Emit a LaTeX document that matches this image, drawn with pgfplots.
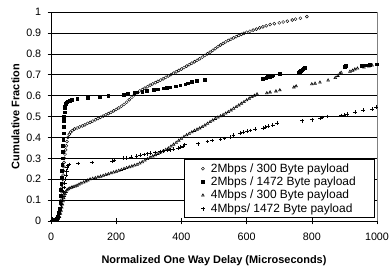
\documentclass[border=0pt]{standalone}
\usepackage{fontspec}
\setmainfont{Liberation Sans}
\usepackage{pgfplots}
\pgfplotsset{compat=1.18}
\newcommand\lf{\fontsize{12}{14}\selectfont}
\pgfplotsset{myleg/.style={legend image code/.code={\path (-0.55cm,0cm) (0.2cm,0cm); \draw[##1] plot coordinates {(0cm,0cm)};}}}
\begin{document}
\begin{tikzpicture}
\begin{axis}[
 scale only axis, width=326bp, height=209bp,
 xmin=0, xmax=1000, ymin=0, ymax=1,
 xtick={0,200,400,600,800,1000},
 ytick={0,0.1,0.2,0.3,0.4,0.5,0.6,0.7,0.8,0.9,1},
 ymajorgrids, major grid style={black, line width=0.5bp},
 axis x line*=bottom, axis y line*=left,
 axis line style={black, line width=0.6bp},
 tick align=center, major tick length=6.5bp,
 tick style={black, line width=0.5bp},
 ticklabel style={font=\fontsize{10.8}{13}\selectfont},
 xticklabel style={yshift=-5bp},
 yticklabel style={xshift=-3bp},
 /pgf/number format/assume math mode=true,
 /pgf/number format/1000 sep={},
 xlabel={Normalized One Way Delay (Microseconds)},
 ylabel={Cumulative Fraction},
 label style={font=\fontsize{11}{13}\selectfont\bfseries},
 xlabel style={yshift=-8bp},
 ylabel style={yshift=0bp},
 legend style={at={(0.994,0.014)}, anchor=south east, draw=black, fill=white,
   font=\lf, row sep=-0.8bp, line width=0.6bp},
 legend cell align=left,
 clip=false,
]
\draw[gray, line width=0.6bp] (rel axis cs:1,0) -- (rel axis cs:1,1);
\addplot[only marks, mark=o, mark size=1.5bp, mark options={line width=0.45bp, fill=white}, myleg] coordinates {
(16,0.004)(20,0.01)(23,0.02)(26,0.04)(28,0.06)(30,0.08)(31,0.10)(32,0.12)(33,0.14)(34,0.16)(35,0.18)(36,0.20)(37,0.22)(38,0.24)(39,0.26)(40,0.28)(41,0.30)(43,0.32)(45,0.34)(47,0.36)(49,0.38)(52,0.40)(56,0.415)(60,0.425)(65,0.432)(72,0.44)(80,0.445)(88,0.45)(96,0.455)(104,0.46)(112,0.467)(120,0.472)(128,0.478)(136,0.484)(144,0.49)(152,0.496)(160,0.502)(168,0.508)(176,0.514)(184,0.52)(192,0.527)(200,0.534)(208,0.541)(216,0.549)(224,0.558)(232,0.568)(240,0.58)(248,0.592)(256,0.604)(264,0.614)(272,0.622)(280,0.629)(288,0.636)(296,0.643)(304,0.65)(312,0.656)(320,0.662)(328,0.668)(336,0.674)(344,0.68)(352,0.687)(360,0.694)(368,0.70)(376,0.707)(384,0.714)(392,0.72)(400,0.727)(408,0.734)(416,0.741)(424,0.748)(432,0.755)(440,0.762)(448,0.769)(456,0.776)(464,0.784)(472,0.792)(480,0.80)(488,0.808)(496,0.816)(504,0.825)(512,0.834)(520,0.842)(528,0.85)(536,0.857)(544,0.864)(552,0.87)(560,0.876)(568,0.882)(576,0.888)(584,0.893)(592,0.898)(600,0.903)(610,0.908)(620,0.913)(630,0.918)(640,0.924)(650,0.929)(660,0.934)(672,0.94)(685,0.944)(700,0.948)(712,0.952)(725,0.956)(740,0.962)(750,0.966)(765,0.97)(785,0.978)
};
\addlegendentry{\lf 2Mbps / 300 Byte payload\hspace*{14bp}}
\addplot[only marks, mark=square*, mark size=1.35bp, mark options={black}, myleg] coordinates {
(14,0.004)(18,0.01)(21,0.02)(24,0.04)(26,0.06)(28,0.09)(29,0.12)(30,0.15)(31,0.18)(32,0.21)(33,0.24)(34,0.27)(35,0.30)(36,0.33)(36.5,0.36)(37,0.39)(38,0.42)(38.5,0.45)(39,0.48)(40,0.50)(41,0.52)(42,0.54)(43,0.55)(45,0.56)(47,0.565)(50,0.57)(54,0.573)(58,0.576)(63,0.58)(80,0.585)(112,0.59)(150,0.595)(175,0.60)(222,0.603)(230,0.607)(236,0.61)(255,0.613)(263,0.616)(280,0.62)(294,0.623)(315,0.627)(328,0.63)(345,0.635)(355,0.637)(365,0.64)(382,0.645)(396,0.65)(412,0.655)(420,0.66)(432,0.665)(447,0.67)(472,0.675)(650,0.68)(655,0.683)(660,0.686)(665,0.689)(670,0.692)(676,0.695)(681,0.698)(702,0.705)(758,0.71)(762,0.714)(765,0.718)(768,0.722)(771,0.726)(774,0.73)(778,0.735)(900,0.737)(905,0.742)(954,0.744)(966,0.746)(978,0.748)(998,0.75)
};
\addlegendentry{\lf 2Mbps / 1472 Byte payload\hspace*{14bp}}
\addplot[only marks, mark=triangle, mark size=1.5bp, mark options={line width=0.6bp, fill=white}, myleg] coordinates {
(18,0.004)(22,0.01)(26,0.02)(29,0.035)(31,0.05)(33,0.065)(35,0.08)(37,0.095)(39,0.11)(41,0.12)(43,0.13)(46,0.14)(49,0.148)(53,0.153)(58,0.157)(63,0.16)(68,0.163)(74,0.166)(80,0.17)(86,0.175)(92,0.18)(100,0.185)(107,0.19)(113,0.195)(120,0.2)(128,0.203)(136,0.206)(144,0.21)(152,0.213)(160,0.217)(168,0.221)(176,0.225)(184,0.229)(192,0.233)(200,0.237)(208,0.241)(216,0.245)(224,0.25)(232,0.254)(240,0.258)(248,0.262)(256,0.266)(264,0.27)(272,0.276)(280,0.282)(288,0.29)(296,0.297)(304,0.304)(312,0.31)(320,0.316)(328,0.322)(336,0.328)(344,0.334)(352,0.341)(360,0.348)(368,0.357)(376,0.366)(384,0.375)(392,0.385)(400,0.394)(408,0.403)(416,0.411)(424,0.418)(432,0.425)(440,0.432)(448,0.438)(456,0.444)(464,0.45)(472,0.458)(480,0.466)(488,0.474)(496,0.482)(504,0.489)(512,0.496)(520,0.502)(528,0.508)(536,0.515)(544,0.522)(552,0.53)(560,0.538)(568,0.546)(576,0.554)(584,0.562)(592,0.57)(600,0.578)(608,0.586)(616,0.594)(624,0.60)(632,0.607)(662,0.612)(672,0.616)(690,0.621)(702,0.626)(745,0.64)(752,0.645)(800,0.655)(810,0.658)(825,0.663)(850,0.673)(872,0.685)(880,0.695)(886,0.705)(890,0.71)(917,0.715)(925,0.72)(932,0.726)(940,0.73)(960,0.735)(975,0.74)(985,0.745)
};
\addlegendentry{\lf 4Mbps / 300 Byte payload\hspace*{14bp}}
\addplot[only marks, mark=+, mark size=1.9bp, mark options={line width=0.5bp}, myleg] coordinates {
(2,0.004)(5,0.008)(12,0.012)(18,0.016)(22,0.025)(26,0.04)(29,0.06)(32,0.08)(34,0.1)(36,0.12)(38,0.14)(40,0.16)(42,0.18)(44,0.2)(46,0.22)(48,0.24)(50,0.255)(52,0.265)(55,0.27)(84,0.275)(125,0.28)(187,0.288)(195,0.292)(221,0.30)(232,0.302)(245,0.305)(262,0.31)(273,0.315)(285,0.318)(296,0.322)(304,0.325)(320,0.328)(335,0.332)(343,0.335)(358,0.338)(366,0.341)(374,0.345)(390,0.35)(398,0.355)(405,0.36)(410,0.365)(451,0.37)(480,0.38)(494,0.385)(520,0.39)(532,0.395)(549,0.40)(560,0.41)(580,0.42)(590,0.425)(601,0.43)(612,0.433)(626,0.44)(650,0.445)(658,0.45)(665,0.455)(680,0.46)(693,0.47)(770,0.48)(800,0.485)(825,0.49)(831,0.495)(846,0.50)(890,0.505)(900,0.508)(908,0.512)(932,0.52)(957,0.53)(985,0.535)(998,0.545)
};
\addlegendentry{\lf 4Mbps/ 1472 Byte payload\hspace*{14bp}}
\end{axis}
\pgfresetboundingbox
\useasboundingbox (-51bp,-51bp) rectangle (340bp,221bp);
\end{tikzpicture}
\end{document}
